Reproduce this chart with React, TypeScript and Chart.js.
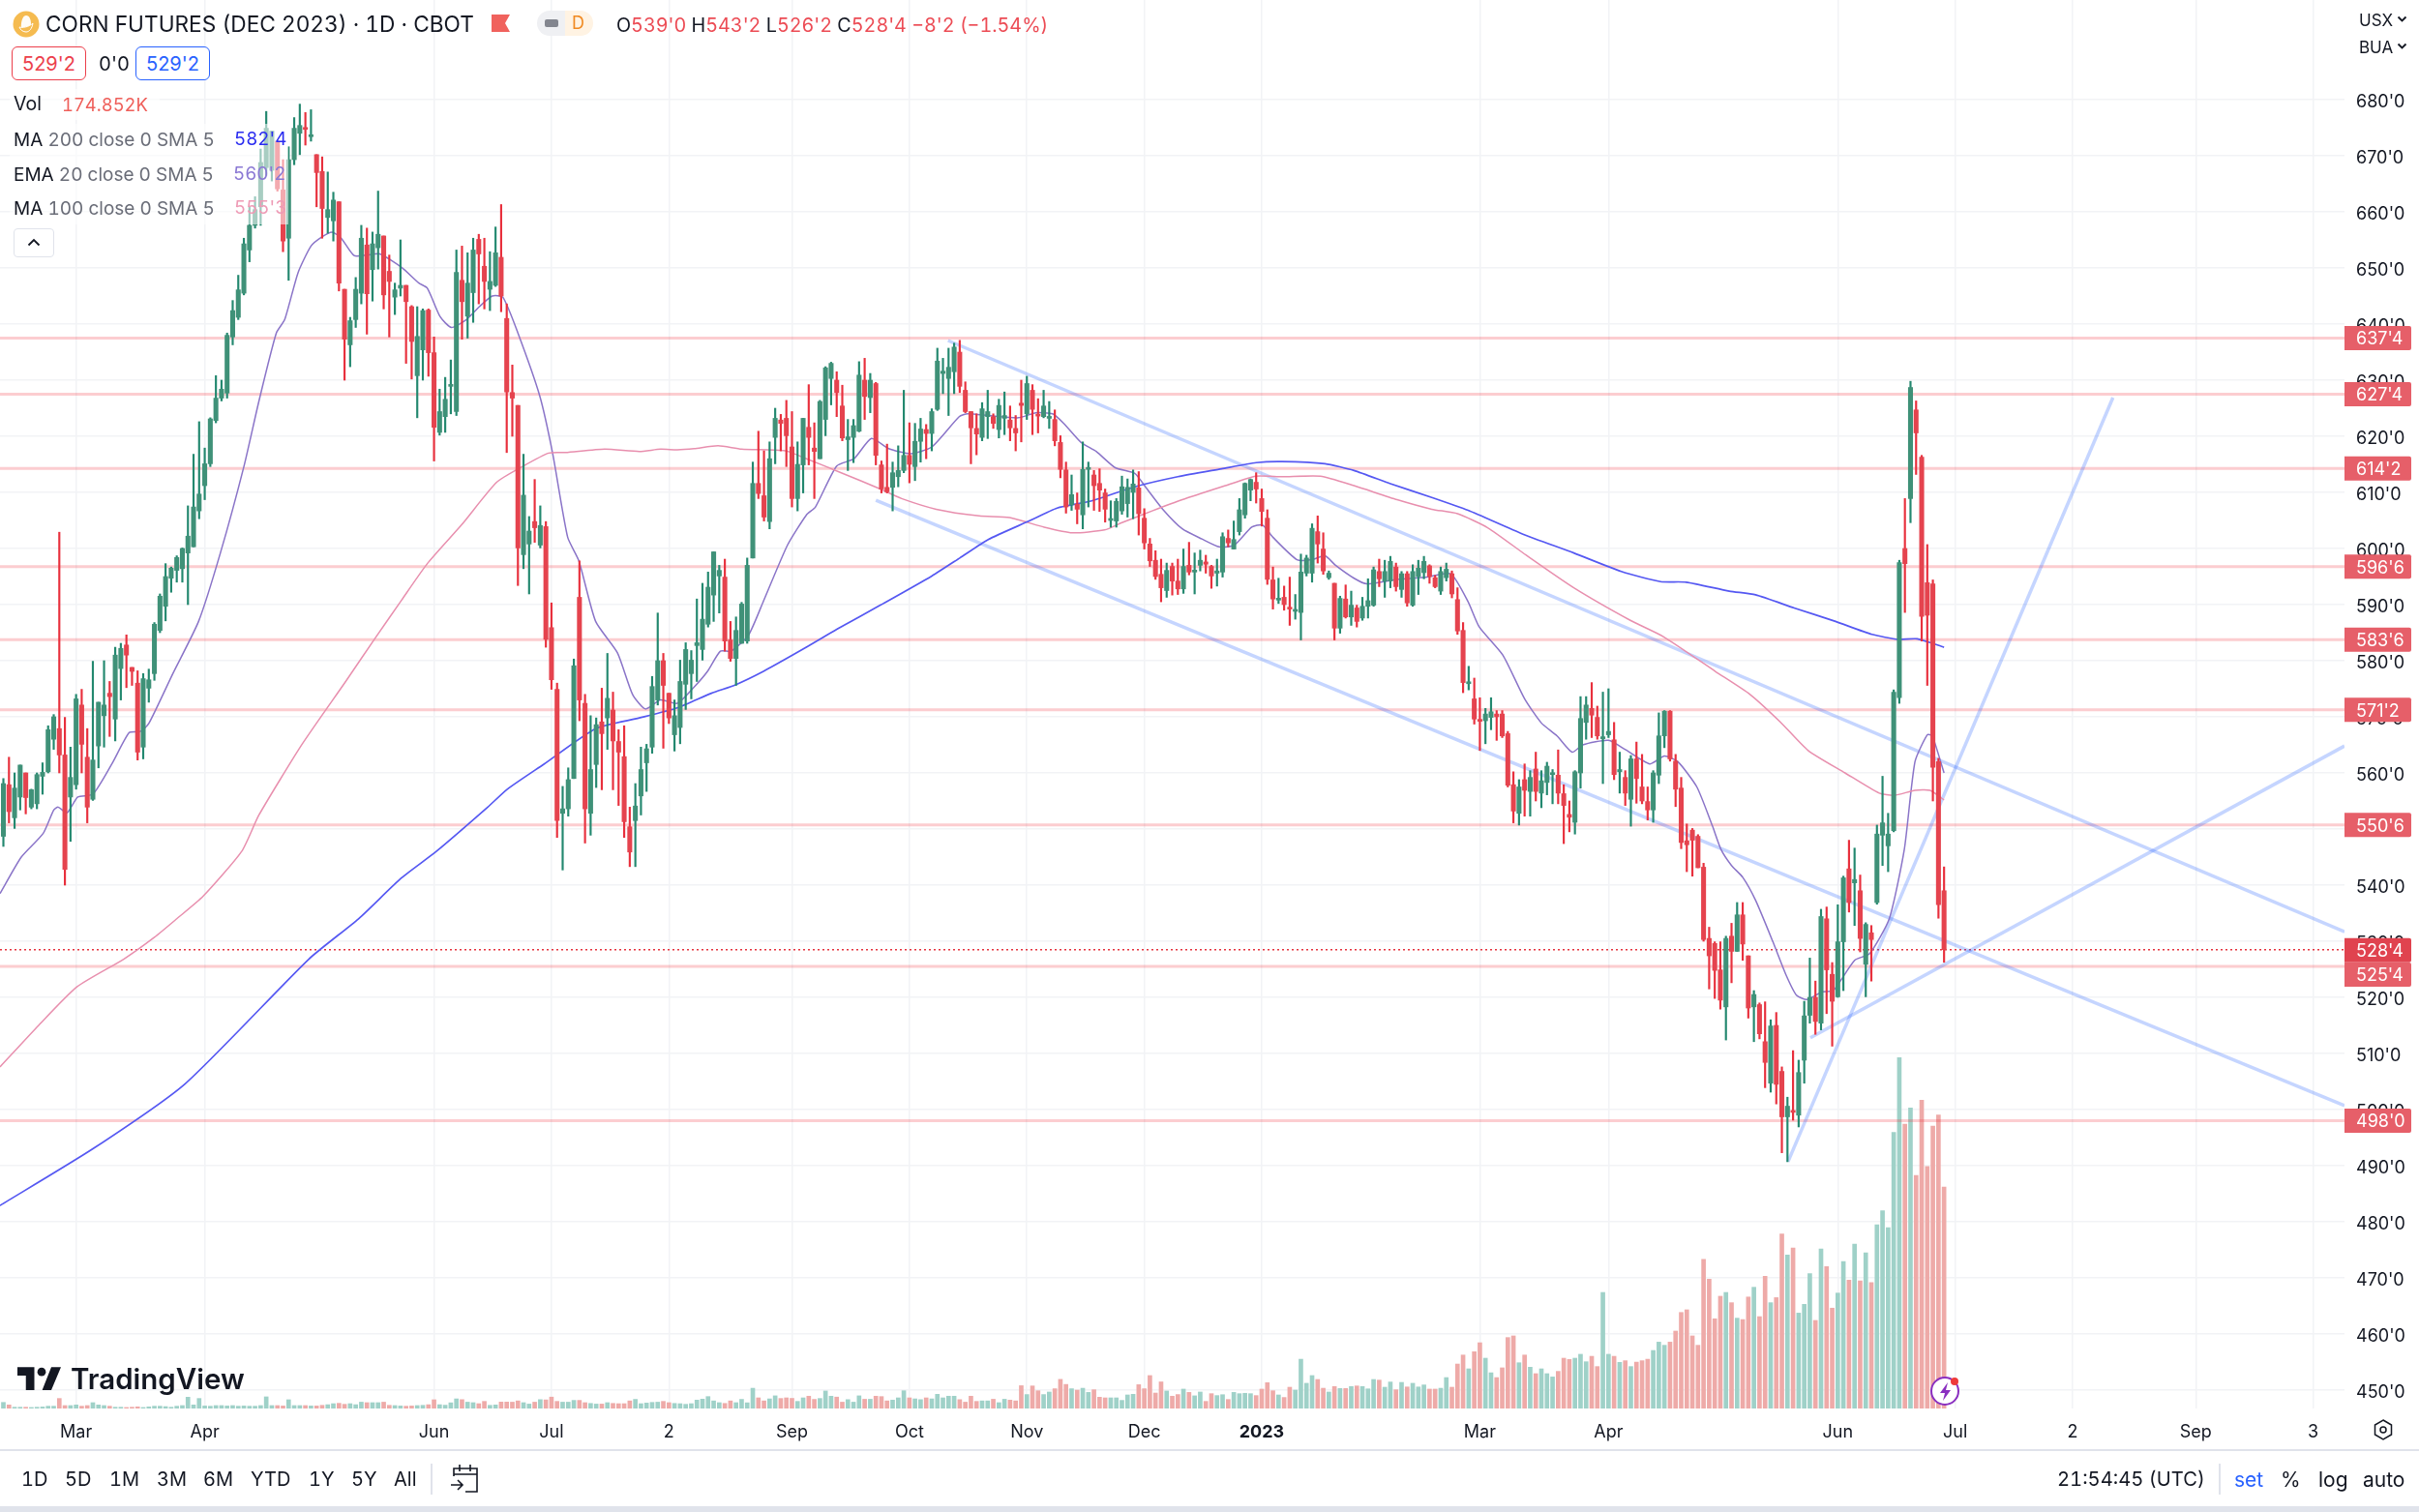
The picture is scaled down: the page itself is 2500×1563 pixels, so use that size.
import React, { useEffect, useRef } from "react";
import { Chart, registerables } from "chart.js";

Chart.register(...registerables);

const highs = [
559,562.8,560,561.4,560,557.1,560,561.8,568.4,570.4,
602.9,569.9,564.6,574,574.9,567.9,579.9,572.6,580,576.3,
582.4,583.1,584.6,578.8,578.2,577.7,578.5,586.8,591.9,597.3,
596.7,598.7,600.1,607.6,616.8,622.6,617.9,623.3,630.8,630,
638.4,644.2,648.7,655.3,660.9,662.7,671.2,677.9,674.4,672.6,
669.3,671.6,676.8,679.2,677.7,678.2,670.2,669.8,667.1,663.5,
661.8,646.2,641.2,648.3,657.6,657.1,656.4,663.7,655.7,652.3,
647.3,655,646.9,643.3,643.1,642.7,642.7,637.7,628.4,630.5,
633.6,653.2,653.9,652.7,655.3,656,655.3,652.9,657.3,661.3,
643.6,632.7,625.5,616.8,605.7,612.3,607.6,604.8,590.3,576,
557.6,560.9,580.3,597.8,574,570.2,569.8,575.1,581.3,574.4,
567.7,568.4,553.9,558.1,564.6,565.1,577.2,588.5,581.3,574.2,
573,
580.1,583.2,581.8,591,593.8,595.8,599.4,597,598.1,587,
587.8,590.4,598.3,615.4,620.9,617.4,619,625,623.9,626.4,
624.4,619,623.2,629.2,622.4,626.4,632.4,633.2,631.5,629.1,
623,623,633.3,633.9,631.2,629.6,615.6,618.6,615.4,618.3,
628.2,622.4,622.3,623.2,622.1,624.9,635.7,633.9,635.7,636.6,
637.1,629.7,624.4,624,626,628.2,624,626.6,627.9,625.4,
623.7,630,630.7,629.2,626.7,628.2,626.2,624.7,620.1,615.4,
613.1,609.9,619,615.4,613.9,614.2,610.6,608.5,608.9,612.9,
612.4,614,613.7,607.1,601.8,599.6,598.1,597.4,597.4,598.1,
599.9,601.1,599.2,599.7,598.8,597,598.1,602.8,603.3,604.9,
608.9,611.7,612.4,613.5,610.6,606.9,596.7,594.7,593.3,594.9,
591.8,599,598.8,604.4,605.8,602.8,596,593.8,591.5,593.5,
592.4,
589.9,591.3,594.6,596.7,598.1,597.9,598.6,597.4,595.9,595.9,
597.1,597.9,598.6,597.1,595.2,596.7,597.4,596,593,586.8,
579,576.9,573.4,571.5,573.4,571.1,571.1,567.4,560.2,558.8,
561.6,560.4,563.7,560.4,561.9,560.6,564.1,557.9,555,560.4,
573.6,573.6,576.1,571.9,574.4,575,569,563.7,560.4,563.1,
565.5,563.3,557.5,560.4,570.7,571.1,571.1,563.3,559.2,550.9,
550.1,549,543.9,532.5,529.9,529.9,530.9,533.2,536.9,536.9,
527.4,521.2,519,519.2,516,517.3,507.6,502.2,510.5,508.8,
519.3,527,522.9,535.7,536.1,526.2,536.5,541.6,548,546.6,
541.8,533.3,532.8,550.7,559.4,552.8,574.8,597.9,608.9,629.8,
626.3,616.6,600.7,594.4,562.6,543.25];

const lows = [
546.9,551.1,550.1,553.4,552.7,553.6,553.6,556.2,560,564.2,
560,540,547.8,557.1,560,551.1,555.1,560.9,564.6,566.5,
565.7,573,575.2,575.6,562.3,562.5,572.6,576.5,585,587.1,
592.2,594,594,590,600.3,605.3,608.7,614.6,622.4,626.3,
626.8,636.3,640.8,645.2,651.1,657.1,657.6,666.5,665.5,663.7,
652.9,647.8,668.4,670.2,671.9,672.6,660.9,655.3,656.2,654.8,
645.9,630,632.4,639.4,643.6,638.2,644.1,649.8,642.7,637.7,
641.7,645,633,630.2,623.3,630,630.7,615.6,620.2,620.7,
624,623.7,637.3,637.5,640.3,643.6,642.7,642.4,646.7,642.2,
617.1,620,593.4,596.4,591.9,601.1,600.1,582.4,574.9,548.5,
542.7,552.3,559,569.3,547.5,548.9,557.4,557,564.2,557,
554.2,548.5,543.3,543.3,552.5,556.7,563.5,572.1,564.4,568.8,
563.9,
565.2,571.3,573.2,576.3,580.1,586,587,588.5,581.7,579.9,
575.6,583.1,583.1,598.3,608.9,604.9,603.5,615.1,617.4,614.6,
607.4,606.7,609.9,614.9,608.9,616,620.1,625.6,623.5,619.2,
613.9,615.3,620.8,623,624.2,614.9,609.9,609.9,606.7,611,
613.5,611.7,612.1,615.4,616,617.4,624.6,627.6,623.7,627.6,
627.8,624.2,615.1,616.7,619.2,619.6,621.4,619.7,620.3,619.2,
617.4,619,623,620.3,620.6,623.3,621.4,618.3,612.6,606.3,
606.8,604.4,603.5,607.4,606.8,606.6,604.7,603.8,603.8,606.1,
605.6,605.3,602.4,599.9,596.8,594.5,590.5,591.3,591.7,591.8,
592,595.3,591.9,596,595.6,592.9,593.3,594.9,600.3,599.9,
602.4,605.4,608.5,608.1,604,593.6,589.2,590.2,589,586.3,
587.4,583.7,595.1,594,597.4,595.4,594.5,583.7,584.9,587.6,
586.3,
586,587.2,587.6,589.7,593.2,591.3,593,592.4,591.3,589.7,
589.7,591.8,594.6,593.8,593,591.8,594.2,591.2,584.7,574.3,
574.8,568.7,564,565.2,567.7,565.8,566.3,557.5,551.1,550.7,
552.3,552.3,555,553.8,556.1,554.5,554.5,547.4,549.5,549.1,
557.3,566,566.3,566,558.1,566.3,558.8,556.4,554.2,550.5,
554.6,554.5,551.6,551.2,558.1,564.5,562.1,554,546.5,542.4,
541.6,543.1,530,521.5,519.8,517.9,512.4,522.6,528.2,526.6,
516.3,512.1,512.6,503.9,503.1,501,492.3,490.7,498.1,496.9,
504.7,515.4,513.4,514.2,517.1,511.3,520,521.2,535.2,532.8,
528.1,520.1,522.9,536.6,543.5,542.4,549.5,572.4,588.6,604.6,
613.2,583.5,575.6,555,534.1,526.25];

const opens = [
548.7,557.9,552,555.7,560,553.9,554.5,559.4,560.2,566,
567.9,563.2,555.7,557.9,572.1,562.8,555.3,564.8,570.2,574.2,
569.6,578.6,582.8,578.8,576,564.6,575.1,577.7,585.4,589.7,
594.7,596.1,596.4,599.2,600.3,606.7,611.2,615.1,622.8,626.8,
627.7,637.7,641.2,645.5,653.2,657.6,660.9,667.9,667.4,672.6,
663.9,655.3,669.3,674,675,673.4,670.2,667.2,659,658.4,
661.8,646.2,636.3,640.8,645.5,654.1,649.7,653.6,655.7,649.4,
644.8,646.4,646.9,643.1,630.8,635.4,642.5,634.9,620.7,623.5,
628.9,624.4,647.8,641.4,645.6,655.1,650.3,646.2,646.9,651.9,
641,627.8,625.5,598.9,600.8,604.8,600.6,603.9,585.9,574.9,
552.8,553.6,559,591.3,572.4,552.8,561.5,569.1,569.8,571.2,
565.6,562.9,550.4,551.5,555.9,561.8,564.6,573,580,574.2,
566.8,
568.1,575.8,577.7,582.7,582,586.5,591.7,595.1,594.9,583.7,
580.4,583.1,583.5,598.3,611.6,609.4,604.8,619.8,622.9,623.2,
618.1,608.9,614.9,621.6,617.9,616,623,630.3,630,625.4,
619.4,619.8,620.9,630,626.9,629.4,614.9,610.9,610.9,612.8,
613.9,616.6,614.6,619.1,621.2,620.5,624.8,631.2,630.3,631.5,
635,628.2,624.4,621.4,619.8,623.5,623.5,621.2,623.2,622.9,
621.4,625.9,624,628.2,623.9,623.5,623.2,623,618.9,614,
607.8,607.9,606,614.1,613.1,611.6,609.9,605,604.9,606.7,
608,610,610.8,605.4,600.8,597.9,595.4,592.5,596.8,594.2,
592.8,597,595.8,597,597.6,596.8,595.6,595.8,601.8,599.9,
603,606,610.4,611.8,608.9,605.4,594.4,590.8,591.3,589.5,
588.8,588.6,595.6,595.6,603,599.9,594.8,593.8,585.8,591,
587.8,
589.4,587.6,589.7,589.9,595.9,594.2,594.2,596.7,592.7,595.5,
589.9,595,595.7,596.9,594.8,592.4,594.8,595.5,590.9,585.4,
575.9,573.2,569.3,569.3,569.9,570.5,570.5,567,557.9,552.8,
558.8,556.7,560.7,556.4,558.3,559.7,559.6,556.3,552.6,551.2,
560,569,571.5,569.9,566.1,566.8,565.9,560.2,559.2,555.3,
562.5,557.5,554.9,553.4,559.6,566.6,571,562.1,557.3,547.9,
549.8,548.7,543.2,530.5,529.6,524.9,518.3,530.9,528.2,534.7,
527.4,518.3,518.7,512.1,504.7,515,506.8,498.7,499.8,499,
508.8,516.8,520,515.4,534,524.1,520.1,529.9,542.9,540.4,
539,525.9,531.5,536.9,548.9,547,549.7,573.4,600,608.9,
624.7,616.3,593.9,593.7,562,539];

const closes = [
558.1,553.1,557.3,561.4,555.6,557,559.7,560.1,567.7,570,
563.2,542.8,559.2,573.2,565.1,553.9,562.3,572.6,572.1,573.6,
581,582.2,581,578.1,563.7,576.8,576.6,586.5,591.5,595,
596.5,598.4,600,602.2,607.4,609.7,615.1,623.1,626.8,628.4,
638,642.4,646.1,654.3,657.6,660.4,668.8,674.9,674.4,664.1,
654.8,669.3,674.9,675.4,674.7,673.7,667,660.6,660.4,662.1,
647.3,637.3,640.6,646.2,655.3,645.4,654.3,656,645.2,647.6,
646.1,646.9,644,636.9,637.8,642.4,634.9,621.6,624.4,626.6,
629.1,649.2,644,647.3,653.2,652.5,647.6,647.6,652.7,645,
627.9,626.8,600.1,609.5,603.1,603.7,604.1,583.8,576.6,551.5,
553.6,558.8,579.1,573,553.6,560.6,568.6,567,573.3,565.7,
563.7,551.3,545.9,554.1,560.6,564.3,575.4,580,575.6,569.8,
570.2,
576.3,582,580.1,583.2,587.4,593.1,599.4,596.1,583.5,580.4,
585.4,590.1,597,611.6,609.8,605.6,616,623.2,622.3,620.1,
608.9,615,623.2,619.8,617.3,626.2,632.2,633,627.8,619.7,
619.9,621.9,630.9,627.1,630,616.6,610.6,610.1,613.5,613.9,
616.6,615,619.1,621.3,620.5,624.4,633.4,631.6,632.3,635.9,
628.9,624.4,621.5,620.4,624.9,624.4,622.3,625.5,623.7,621.5,
620.6,625.5,629.4,624.8,623.6,625.4,623.4,619.2,614.1,607.4,
609.6,607,614.1,614.4,611.2,610.4,607,605.3,608.4,611,
610.9,611.5,606.2,601,597.8,595,593,596.1,594.2,592.8,
596.8,595.8,596.1,597.9,597.2,595.1,596,602.1,601,601.6,
606.9,611.6,612.3,610.6,606.6,594.5,591,591,590,589.2,
589,595.8,598.3,603.6,600.8,596,595.6,585.8,591.1,587.8,
589.9,
587,589.7,590.7,596.2,594.6,595.9,597.7,593.2,595.5,590.3,
595.9,596.5,597.7,595,593.2,595.9,596.3,591.9,585.3,576.1,
576.1,569.6,569.2,570.5,570.9,570,566.6,557.8,553.2,557.5,
556.9,559.2,556.7,558.6,561.2,560,556.4,554.2,552.1,560.2,
569.7,572.1,570.3,566.6,566.3,567.4,559.7,560.6,556.4,562.5,
559,555,553.4,560,566.6,571,562.5,557.1,547.6,547.2,
548,543.1,530.3,527.4,524.8,519.5,530.5,528.2,534.7,529.5,
518.1,520.5,513.5,508.4,514.9,504.5,498.7,500.6,499.5,506.6,
516.7,520,515.7,534.4,524.9,519.3,529.9,541.3,536.9,541,
530.5,533,530.3,549.1,551.1,549.1,574.4,597.5,597.3,628.7,
620.6,587.9,588.1,561,536.5,528.5];

// Volume in thousands of contracts
const volumes = [
4.8,2.8,1,1,1,.8,1,1.2,1.8,1.8,
7.9,2.3,2.3,2.8,1.8,2.3,4.6,2.8,2.3,1.8,
1,1,.8,1,1.3,.8,1.3,1.8,1.8,1.5,
1,1.8,2.3,8.9,2.8,7.9,2,1.8,2.3,2.3,
2,2.3,1.8,2,1.8,1.8,2.3,9.2,2.3,2.3,
2,6.9,2.3,2.3,2.3,2,2,2.5,3,3.8,
4.1,3.3,3.8,3,5,4.6,4.6,4.6,5,2.5,
2.3,2,1.8,2,2.3,2.5,3,6.9,3,2.6,
4.5,7.6,7,5,4.6,3.8,5.6,2.5,2.8,
5.1,5.1,5,6,4.6,3.5,5,7,6.8,9,5.6,5,5,6.4,6.4,4.6,4,3.5,3.5,4.6,4,3.8,3.8,6,7.2,3.8,4.3,4.8,5,5.6,4.6,4,3.8,3.3,3.8,6.6,7.4,9.4,6,4.6,4,6,4.6,7.2,4.5,16,
8.4,6,7.6,10,7.9,8.4,8,5.6,8.4,9.7,7.2,7.9,13.8,9.7,9,5,7,5,10,7.3,7.3,9.7,9.4,6,6.6,8.4,14,8.4,7.6,7,8.4,7.6,11.2,8.4,9.7,9.7,7,5,9.7,5.6,6,6,7.3,4.6,7.3,6.6,6,18,11,17.8,14,11,13,15.6,23,19,15.6,14.5,16,12.7,14.8,8.9,8.4,8.4,8.4,6.4,10.7,11.2,18.8,15.6,26,12.2,21,13.8,9.7,11,15.3,12.7,10,13,5.6,
11.7,10.2,10.9,7.1,12.7,11.7,12,11.7,10.2,15.3,20.4,14,10.7,8.7,16.8,14.5,38.9,19.9,26,22.9,16,13,17.3,15.8,15.8,17.3,17.8,17.3,15.5,22.9,22.4,16.8,20.9,14.8,20.6,17,19.9,17,18.6,15.3,15.3,16,24.4,16.8,35.1,42.2,31.3,44.8,51.9,39.7,28.2,24.4,32.1,56,57.3,36.1,42.2,32.6,27.5,31.3,27.5,24.9,29.3,39.7,38.7,39.7,42.8,36.9,41.2,33.1,91.6,42.8,41.2,36.4,37.7,33.1,36.6,37.7,38.9,45.8,52.4,49.9,52.4,61.1,75.8,77.9,57.3,49.9,117.8,102,70.8,88.6,91.6,83.5,71.3,70.2,88,95.7,72.5,104.3,83.5,87.5,137.7,121.1,126.7,75.3,82.2,106.4,69.5,126,112,79.2,91.1,116,101.3,129.8,100.8,122.9,99.3,145,156,142.8,217.9,276.9,224.5,237.2,184,243.3,191.1,222.9,231.6,174.852];

const ma200Idx = [-0.6,16,32.5,54.6,63.5,71.2,77.4,86.6,90.1,96.7,105.9,113.7,120.5,126.6,130.9,135.9,141.3,146.3,149.4,156.8,166,171,176.1,183.4,188.4,194.6,202.3,210,217.8,224,228.6,236.3,241.5,248,255.4,261.9,271.6,280.8,289.3,296.3,300.9,308.6,313.3,320.2,327.6,334.1,338.8,342.2,347];
const ma200 = [482.9,493,504.6,526.8,534,541.3,546,553.9,557.1,561.6,567.9,569.8,571.6,574.2,575.7,578.1,581.1,584,585.8,589.9,595.1,598.3,601.6,604.9,607.2,608.5,611,612.8,614.2,615.3,615.5,615.1,613.9,611.55,609.1,606.8,602.6,599.2,595.9,594.1,594,592.4,591.75,589.4,587,584.7,583.8,583.9,582.4];

const ma100Idx = [-0.6,6.3,13.2,21.5,27,31,35.7,42.6,45.7,53.4,61.2,66.6,71.2,75.8,82,88.2,92.8,97.5,100.5,107.5,113.7,117.5,120.5,123.5,127.8,132,139.8,143.6,149.8,156.8,160.6,166.8,174.5,179.9,186.1,191.1,196.9,200,205.4,210.8,218.5,223.9,228.6,235.5,241.5,249.2,255.4,260,265.4,272.3,280.8,290.9,296.8,306.1,312.3,317.7,322.7,329.3,335.4,338.1,341.8,344.5,347];
const ma100 = [507.6,515,521.9,526.8,530.7,534,538,546,552.5,565.1,576.3,584.2,590.8,597.3,604.3,611.8,614.6,617,617.1,617.7,617.3,617.7,617.6,617.8,618.3,617.7,617.4,616,613.5,610.6,608.9,607,605.8,605.5,603.8,602.8,603.3,604.6,606.7,608.7,611.2,612.9,612.8,612.9,611.2,608.7,607,606.2,603.7,598.8,593,587.2,584.3,578.1,574,569.1,564,560,556.4,556,556.9,556.9,555.2];

const ema20Idx = [-0.6,3.2,7.1,9,9.8,11.4,13.3,16,19.5,22.5,24.5,26,30.3,34.9,38.8,43,45.7,48.8,50.3,52.7,55,56.9,58.8,60.4,62.7,65,67.3,71.2,74.3,75.8,78.1,80.1,82.8,85.1,87.4,89.3,92,95.9,98.2,100.9,102.9,105.9,109.8,112.5,114.8,117.5,120.5,123.5,125.9,128.2,130.1,133.2,135.9,140.2,143.6,145.2,149,152.1,155.2,158.3,162.2,166,170.9,172.4,176.1,181.5,184.6,187.6,189.6,192.7,195.4,198.8,202.3,204.2,207.3,210.8,214.3,217.4,220.1,223.2,225.1,227,231.3,234,236.3,238.2,241.5,243.8,249.2,254.6,258.8,261.9,263.9,268.1,272,275,277.8,280.5,282.4,287,290.1,294.4,297,299.4,302.8,305.6,307.1,309,311,313.3,316.4,318.7,320.6,322.5,325.2,327.2,331,333.7,337.2,339.9,341.8,344,344.9,347];
const ema20 = [538.5,545,549.2,553.4,553.9,552.9,555.7,556.2,561.8,567.2,567.4,568.8,577.7,587,599.2,614.6,626.3,638.4,640.8,649.2,653.9,655.5,656.4,655.3,652.2,652.3,652.5,650.1,647.3,646.4,641.3,639.4,640.8,643.1,645,644.8,638.4,627.2,617,602,597.8,587,581.4,574,571.4,573,572.4,575.3,578.1,581.7,581.7,584.5,590.6,600.6,606,607.4,614.7,616,619.6,617.8,616.9,618.1,623.5,624,623.7,623.3,624.2,624,622.3,618.9,617.3,614.4,613.4,611,607,603.5,601.7,600.3,600.6,603.8,604.2,602,598,598,598.7,597,594.7,593.7,594.5,594.9,595.5,590.5,586,581,573.2,568.9,566.6,563.7,565,565.8,564.1,561.6,563,562,557.5,550.5,546.4,543.5,541.4,537.3,529.9,524.1,520.4,519.6,521,521.2,526.6,527.8,534,546.4,562,566.8,566.6,560];

// Drawn trend lines: [startIndex, startPrice, endIndex, endPrice]
const trendLines = [
  [168.9, 637.07, 418.6, 531.7],
  [156, 608.6, 418.6, 500.7],
  [319.1, 490.7, 377.2, 626.9],
  [323.1, 512.8, 418.6, 564.8],
];

const levelPrices = [637.5, 627.5, 614.25, 596.75, 583.75, 571.25, 550.75, 525.5, 498];
const lastPrice = 528.5;
const priceTicks = [680,670,660,650,640,630,620,610,600,590,580,570,560,550,540,530,520,510,500,490,480,470,460,450];
const timeTickIdx = [13,36,77,98,119,141,162,183,204,225,264,287,328,349,370,392,413];
const timeTickLabels = ["Mar","Apr","Jun","Jul","2","Sep","Oct","Nov","Dec","2023","Mar","Apr","Jun","Jul","2","Sep","3"];
const rangeButtons: [string, number][] = [["1D",22],["5D",67],["1M",113],["3M",162],["6M",210],["YTD",259],["1Y",319],["5Y",363],["All",407]];

const X_MIN = -0.6055;
const X_MAX = 418.6;
const Y_MIN = 446.72;
const Y_MAX = 697.76;
const VOL_MAX = 1111.7;

const FONT = 'Inter, "Noto Sans", sans-serif';
const GREEN = "#3f9178";
const GREEN_W = "#23886f";
const RED = "#e5434e";
const RED_W = "#e8303d";
const VOL_G = "#9fd1c8";
const VOL_R = "#eeaaa8";
const LVL = "rgba(242,54,69,0.25)";
const TREND = "rgba(41,98,255,0.27)";
const GRID = "#f2f3f6";

const fmtPrice = (p: number) => `${Math.floor(p)}'${Math.round((p - Math.floor(p)) * 8)}`;

const badgePlugin = {
  id: "priceBadges",
  afterDraw(chart: any) {
    const { ctx, scales } = chart;
    const y = scales.y;
    const drawBadge = (cy: number, text: string, fill: string) => {
      ctx.fillStyle = fill;
      ctx.beginPath();
      ctx.roundRect(2423, cy - 12.5, 69, 25, [0, 2, 2, 0]);
      ctx.fill();
      ctx.fillStyle = "#ffffff";
      ctx.font = `18px ${FONT}`;
      ctx.textAlign = "left";
      ctx.textBaseline = "middle";
      ctx.fillText(text, 2435, cy + 1.5);
    };
    ctx.save();
    levelPrices.forEach((p) => {
      const bump = p === 525.5 ? 8.5 : 0;
      drawBadge(y.getPixelForValue(p) + bump, fmtPrice(p), "#e65f69");
    });
    drawBadge(y.getPixelForValue(lastPrice) + 0.5, fmtPrice(lastPrice), "#e0434f");
    ctx.restore();
  },
};

const Txt: React.FC<{ x: number; y: number; size?: number; color?: string; weight?: number; children: React.ReactNode }> = ({
  x, y, size = 20, color = "#131722", weight = 400, children,
}) => (
  <div style={{ position: "absolute", left: x, top: y, transform: "translateY(-50%)", fontFamily: FONT, fontSize: size, color, fontWeight: weight, whiteSpace: "pre", lineHeight: 1, fontVariantNumeric: "tabular-nums" }}>
    {children}
  </div>
);

const Box: React.FC<{ x: number; w: number; c: string; children: React.ReactNode }> = ({ x, w, c, children }) => (
  <div style={{ position: "absolute", left: x, top: 48, width: w, height: 35, boxSizing: "border-box", border: `1.5px solid ${c}`, borderRadius: 6, color: c, fontFamily: FONT, fontSize: 20, display: "flex", alignItems: "center", justifyContent: "center", background: "#fff" }}>
    {children}
  </div>
);

export default function App() {
  const ref = useRef<HTMLCanvasElement | null>(null);
  useEffect(() => {
    if (!ref.current) return;
    const idx = closes.map((_, i) => i);
    const isUp = (i: number) => closes[i] >= opens[i];
    const chart = new Chart(ref.current, {
      type: "bar",
      plugins: [badgePlugin],
      data: {
        datasets: [
          {
            type: "bar", label: "Vol", yAxisID: "v", order: 10, barThickness: 4, grouped: false,
            data: idx.map((i) => ({ x: i, y: volumes[i] })),
            backgroundColor: idx.map((i) => (isUp(i) ? VOL_G : VOL_R)),
          },
          ...levelPrices.map((p) => ({
            type: "line", label: "lvl" + p, yAxisID: "y", order: 9, pointRadius: 0, borderWidth: 3, borderColor: LVL,
            data: [{ x: X_MIN, y: p }, { x: X_MAX, y: p }],
          })),
          {
            type: "line", label: "last", yAxisID: "y", order: 9, pointRadius: 0, borderWidth: 1.5, borderColor: "#e5343f", borderDash: [2, 3],
            data: [{ x: X_MIN, y: lastPrice }, { x: X_MAX, y: lastPrice }],
          },
          ...trendLines.map((t, k) => ({
            type: "line", label: "trend" + k, yAxisID: "y", order: 8, pointRadius: 0, borderWidth: 3.5, borderColor: TREND,
            data: [{ x: t[0], y: t[1] }, { x: t[2], y: t[3] }],
          })),
          {
            type: "line", label: "MA 200", yAxisID: "y", order: 7, pointRadius: 0, borderWidth: 1.7, borderColor: "#5558f2", tension: 0.2,
            data: ma200.map((v, i) => ({ x: ma200Idx[i], y: v })),
          },
          {
            type: "line", label: "MA 100", yAxisID: "y", order: 7, pointRadius: 0, borderWidth: 1.5, borderColor: "#e88fae", tension: 0.2,
            data: ma100.map((v, i) => ({ x: ma100Idx[i], y: v })),
          },
          {
            type: "line", label: "EMA 20", yAxisID: "y", order: 7, pointRadius: 0, borderWidth: 1.5, borderColor: "#8a74c8", tension: 0.2,
            data: ema20.map((v, i) => ({ x: ema20Idx[i], y: v })),
          },
          {
            type: "bar", label: "wick", yAxisID: "y", order: 6, barThickness: 1.5, grouped: false,
            data: idx.map((i) => ({ x: i, y: [lows[i], highs[i]] })),
            backgroundColor: idx.map((i) => (isUp(i) ? GREEN_W : RED_W)),
          },
          {
            type: "bar", label: "body", yAxisID: "y", order: 5, barThickness: 4.4, grouped: false, minBarLength: 2,
            data: idx.map((i) => ({ x: i, y: [opens[i], closes[i]] })),
            backgroundColor: idx.map((i) => (isUp(i) ? GREEN : RED)),
          },
        ] as any,
      },
      options: {
        responsive: false,
        animation: false,
        devicePixelRatio: 1,
        layout: { padding: 0, autoPadding: false },
        plugins: { legend: { display: false }, tooltip: { enabled: false } },
        scales: {
          x: {
            type: "linear", min: X_MIN, max: X_MAX, offset: false,
            grid: { color: GRID, lineWidth: 1.5, drawTicks: false, offset: false },
            border: { display: false },
            afterBuildTicks: (s: any) => { s.ticks = timeTickIdx.map((v) => ({ value: v })); },
            afterFit: (s: any) => { s.height = 107; s.paddingLeft = 0; s.paddingRight = 0; },
            ticks: {
              autoSkip: false, maxRotation: 0, padding: 14, color: "#131722",
              font: (c: any) => ({ family: FONT, size: 18, weight: c.tick && c.tick.value === 225 ? "700" : "400" }),
              callback: (v: any) => timeTickLabels[timeTickIdx.indexOf(v)],
            },
          },
          y: {
            type: "linear", position: "right", min: Y_MIN, max: Y_MAX,
            grid: { color: GRID, lineWidth: 1.5, drawTicks: false },
            border: { display: false },
            afterBuildTicks: (s: any) => { s.ticks = priceTicks.map((v) => ({ value: v })); },
            afterFit: (s: any) => { s.width = 77; s.paddingTop = 0; s.paddingBottom = 0; },
            ticks: {
              autoSkip: false, padding: 12, color: "#131722", font: { family: FONT, size: 18, lineHeight: "6px" },
              // an empty first line nudges the text down to sit on its gridline
              callback: (v: any) => ["", `${v}'0`],
            },
          },
          v: { type: "linear", display: false, position: "left", min: 0, max: VOL_MAX, grid: { display: false } },
        },
      } as any,
    } as any);
    return () => chart.destroy();
  }, []);

  return (
    <div style={{ position: "fixed", left: 0, top: 0, width: 2500, height: 1563, overflow: "hidden", background: "#fff" }}>
      <canvas ref={ref} width={2500} height={1563} style={{ position: "absolute", left: 0, top: 0, width: 2500, height: 1563 }} />

      {/* header */}
      <svg style={{ position: "absolute", left: 13, top: 11 }} width="28" height="28" viewBox="0 0 28 28">
        <circle cx="14" cy="14" r="13.5" fill="#f5bb50" />
        <path d="M14 5c3.5 0 5 4.5 5 8 0 2-.5 3-1 4l-8 3c-1-2-1.500-4-1-7 .5-3.500 2-8 5-8z" fill="#fff" opacity="0.95" />
        <path d="M7 17c3 1 10 0 14-4-1 6-4 9-7 9s-6-2-7-5z" fill="#f5bb50" stroke="#fff" strokeWidth="1" />
      </svg>
      <Txt x={47} y={25} size={22.7}>CORN FUTURES (DEC 2023) · 1D · CBOT</Txt>
      <svg style={{ position: "absolute", left: 508, top: 15 }} width="19" height="18" viewBox="0 0 19 18">
        <path d="M0 0h19l-5 9 5 9H0z" fill="#f0625d" />
      </svg>
      <div style={{ position: "absolute", left: 555, top: 11, width: 29, height: 26, background: "#eff0f3", borderRadius: "13px 0 0 13px" }} />
      <div style={{ position: "absolute", left: 584, top: 11, width: 29, height: 26, background: "#fff3e3", borderRadius: "0 13px 13px 0" }} />
      <div style={{ position: "absolute", left: 563, top: 20, width: 14, height: 8, background: "#83868f", borderRadius: 2 }} />
      <Txt x={591} y={24} size={18} color="#f08a22">D</Txt>
      <Txt x={637} y={27} size={19.75}>
        O<span style={{ color: "#ec4c55" }}>539'0</span> H<span style={{ color: "#ec4c55" }}>543'2</span> L<span style={{ color: "#ec4c55" }}>526'2</span> C<span style={{ color: "#ec4c55" }}>528'4</span><span style={{ color: "#ec4c55" }}> −8'2 (−1.54%)</span>
      </Txt>

      <Box x={12} w={77} c="#ec3f4b">529'2</Box>
      <Txt x={102} y={66} size={20}>0'0</Txt>
      <Box x={140} w={77} c="#2962ff">529'2</Box>

      {/* legend */}
      <div style={{ position: "absolute", left: 10, top: 92, width: 155, height: 32, background: "rgba(255,255,255,0.6)" }} />
      <div style={{ position: "absolute", left: 10, top: 128, width: 288, height: 104, background: "rgba(255,255,255,0.55)" }} />
      <Txt x={14} y={108} size={19.5}>Vol</Txt>
      <Txt x={64} y={108} size={18.4} color="#ef5f5a">174.852K</Txt>
      <Txt x={14} y={144} size={19}>MA<span style={{ color: "#6a6d78" }}> 200 close 0 SMA 5</span></Txt>
      <Txt x={242} y={144} size={18.8} color="#2a2cf0">582'4</Txt>
      <Txt x={14} y={180} size={19}>EMA<span style={{ color: "#6a6d78" }}> 20 close 0 SMA 5</span></Txt>
      <Txt x={241} y={180} size={18.8} color="#8a78d4">560'2</Txt>
      <Txt x={14} y={215} size={19}>MA<span style={{ color: "#6a6d78" }}> 100 close 0 SMA 5</span></Txt>
      <Txt x={242} y={215} size={18.8} color="#ee9ab5">555'3</Txt>
      <div style={{ position: "absolute", left: 14, top: 236, width: 42, height: 30, boxSizing: "border-box", border: "1.5px solid #e0e3eb", borderRadius: 4, background: "#fff" }}>
        <svg style={{ position: "absolute", left: 13, top: 9 }} width="14" height="9" viewBox="0 0 14 9">
          <path d="M1.500 7.500 7 2l5.500 5.500" fill="none" stroke="#131722" strokeWidth="1.800" />
        </svg>
      </div>

      {/* currency */}
      <Txt x={2438} y={21} size={17}>USX</Txt>
      <svg style={{ position: "absolute", left: 2477, top: 16 }} width="11" height="8" viewBox="0 0 11 8"><path d="M1.500 1.500 5.500 5.500 9.500 1.500" fill="none" stroke="#131722" strokeWidth="1.800" /></svg>
      <Txt x={2438} y={49} size={17}>BUA</Txt>
      <svg style={{ position: "absolute", left: 2477, top: 44 }} width="11" height="8" viewBox="0 0 11 8"><path d="M1.500 1.500 5.500 5.500 9.500 1.500" fill="none" stroke="#131722" strokeWidth="1.800" /></svg>

      {/* watermark */}
      <svg style={{ position: "absolute", left: 18, top: 1413 }} width="45" height="24" viewBox="0 0 36 19">
        <path d="M14 19H7V7H0V0h14v19zM28 19h-7.500L28 0h8l-8 19z" fill="#131722" />
        <circle cx="20" cy="4" r="3.500" fill="#131722" />
      </svg>
      <Txt x={73} y={1426} size={29.5} weight={600}>TradingView</Txt>

      {/* news badge */}
      <svg style={{ position: "absolute", left: 1993, top: 1420 }} width="36" height="36" viewBox="0 0 36 36">
        <circle cx="17" cy="18" r="14" fill="#fff" stroke="#8a2fc0" strokeWidth="2" />
        <path d="M20 9 12 20h5l-2 8 8-11h-5z" fill="#8a2fc0" />
        <circle cx="27" cy="8" r="4" fill="#ee3a3a" />
      </svg>

      {/* settings hexagon */}
      <svg style={{ position: "absolute", left: 2451, top: 1466 }} width="24" height="24" viewBox="0 0 24 24">
        <path d="M12 2 20.500 7v10L12 22 3.500 17V7z" fill="none" stroke="#131722" strokeWidth="1.500" />
        <circle cx="12" cy="12" r="3" fill="none" stroke="#131722" strokeWidth="1.500" />
      </svg>

      {/* bottom toolbar */}
      <div style={{ position: "absolute", left: 0, top: 1498, width: 2500, height: 2, background: "#e0e3eb" }} />
      {rangeButtons.map(([t, x]) => (
        <Txt key={t} x={x} y={1529} size={20}>{t}</Txt>
      ))}
      <div style={{ position: "absolute", left: 445, top: 1513, width: 1.500, height: 32, background: "#e0e3eb" }} />
      <svg style={{ position: "absolute", left: 465, top: 1513 }} width="30" height="30" viewBox="0 0 30 30">
        <path d="M4 13V5h24v24H16M4 11h24M10 1v7M21 1v7M1 22h11M8 17l5 5-5 5" fill="none" stroke="#131722" strokeWidth="1.600" />
      </svg>
      <Txt x={2126} y={1529} size={20.2}>21:54:45 (UTC)</Txt>
      <div style={{ position: "absolute", left: 2293, top: 1513, width: 1.500, height: 32, background: "#e0e3eb" }} />
      <Txt x={2309} y={1529} size={21} color="#2962ff">set</Txt>
      <Txt x={2357} y={1529} size={21}>%</Txt>
      <Txt x={2396} y={1529} size={21}>log</Txt>
      <Txt x={2442} y={1529} size={21}>auto</Txt>
      <div style={{ position: "absolute", left: 0, top: 1557, width: 2500, height: 6, background: "#e0e3eb" }} />
    </div>
  );
}
